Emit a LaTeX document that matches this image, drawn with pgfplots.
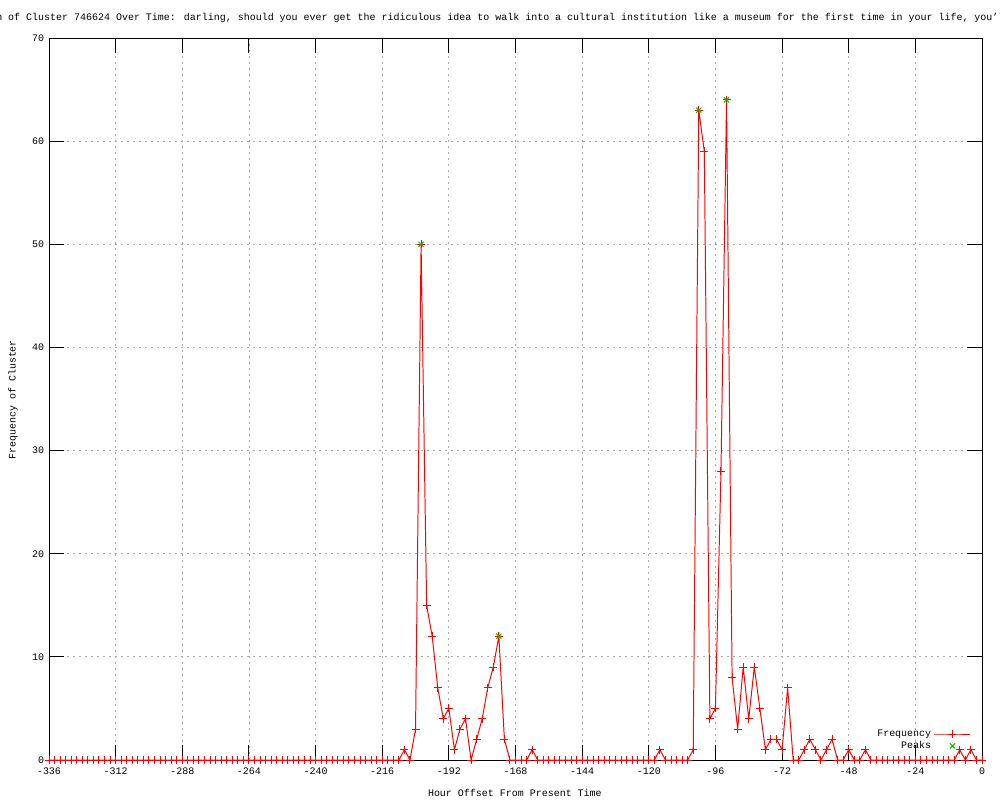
\documentclass[border=0pt]{standalone}
\usepackage{pgfplots}
\pgfplotsset{compat=1.18}
\usepackage{fontspec}
\setmainfont{Liberation Mono}
\setmonofont{Liberation Mono}
\definecolor{gpred}{RGB}{255,0,0}
\definecolor{gpgreen}{RGB}{0,192,0}
\definecolor{gpgrid}{RGB}{170,170,170}
\newcommand{\gpfont}{\fontsize{7.1}{8}\selectfont}
\pgfplotstableread{
x y
-336 0
-334 0
-332 0
-330 0
-328 0
-326 0
-324 0
-322 0
-320 0
-318 0
-316 0
-314 0
-312 0
-310 0
-308 0
-306 0
-304 0
-302 0
-300 0
-298 0
-296 0
-294 0
-292 0
-290 0
-288 0
-286 0
-284 0
-282 0
-280 0
-278 0
-276 0
-274 0
-272 0
-270 0
-268 0
-266 0
-264 0
-262 0
-260 0
-258 0
-256 0
-254 0
-252 0
-250 0
-248 0
-246 0
-244 0
-242 0
-240 0
-238 0
-236 0
-234 0
-232 0
-230 0
-228 0
-226 0
-224 0
-222 0
-220 0
-218 0
-216 0
-214 0
-212 0
-210 0
-208 1
-206 0
-204 3
-202 50
-200 15
-198 12
-196 7
-194 4
-192 5
-190 1
-188 3
-186 4
-184 0
-182 2
-180 4
-178 7
-176 9
-174 12
-172 2
-170 0
-168 0
-166 0
-164 0
-162 1
-160 0
-158 0
-156 0
-154 0
-152 0
-150 0
-148 0
-146 0
-144 0
-142 0
-140 0
-138 0
-136 0
-134 0
-132 0
-130 0
-128 0
-126 0
-124 0
-122 0
-120 0
-118 0
-116 1
-114 0
-112 0
-110 0
-108 0
-106 0
-104 1
-102 63
-100 59
-98 4
-96 5
-94 28
-92 64
-90 8
-88 3
-86 9
-84 4
-82 9
-80 5
-78 1
-76 2
-74 2
-72 1
-70 7
-68 0
-66 0
-64 1
-62 2
-60 1
-58 0
-56 1
-54 2
-52 0
-50 0
-48 1
-46 0
-44 0
-42 1
-40 0
-38 0
-36 0
-34 0
-32 0
-30 0
-28 0
-26 0
-24 0
-22 0
-20 0
-18 0
-16 0
-14 0
-12 0
-10 0
-8 1
-6 0
-4 1
-2 0
0 0
}\freqdata
\pgfplotstableread{
x y
-202 50
-174 12
-102 63
-92 64
}\peakdata
\begin{document}
\begin{tikzpicture}
\begin{axis}[
  at={(1.225cm,-19cm)}, anchor=south west,
  scale only axis,
  width=23.325cm, height=18.05cm,
  xmin=-336, xmax=0, ymin=0, ymax=70,
  xtick={-336,-312,...,0},
  ytick={0,10,...,70},
  tick align=inside,
  major tick length=0.38cm,
  tick style={black, line width=0.7pt},
  axis line style={black, line width=0.7pt},
  grid=major,
  major grid style={gpgrid, line width=0.6pt, dash pattern=on 0.06cm off 0.09cm},
  tick label style={font=\gpfont},
  /pgf/number format/assume math mode=true,
  /pgf/number format/set thousands separator={},
  xticklabel style={yshift=-0.08cm},
  legend style={at={(rel axis cs:0.993,0.005)}, anchor=south east, draw=none, fill=none,
     font=\gpfont, row sep=-2pt, cells={anchor=east}},
  legend plot pos=right,
  legend image code/.code={\draw[mark repeat=2,mark phase=2,#1] plot coordinates {(0cm,0cm) (0.45cm,0cm) (0.9cm,0cm)};},
  clip=false,
]
\addplot[color=gpred, line width=0.7pt, mark=+, mark size=0.1cm, mark options={solid, draw=gpred, color=gpred, line width=0.7pt}] table[x=x,y=y] {\freqdata};
\addlegendentry{Frequency}
\addplot[color=gpgreen, only marks, mark=x, mark size=0.09cm, mark options={draw=gpgreen, line width=0.7pt}] table[x=x,y=y] {\peakdata};
\addlegendentry{Peaks}
\end{axis}
\begin{scope}[x=0.025cm, y=-0.025cm]
\node[anchor=base west, font=\gpfont, inner sep=0pt] at (-10,21) {on of Cluster 746624 Over Time: darling, should you ever get the ridiculous idea to walk into a cultural institution like a museum for the first time in your life, you'll};
\node[font=\gpfont, inner sep=0pt] at (515,793) {Hour Offset From Present Time};
\node[font=\gpfont, inner sep=0pt, rotate=90] at (13,400) {Frequency of Cluster};
\end{scope}
\pgfresetboundingbox
\path[use as bounding box] (0,0) rectangle (25cm,-20cm);
\end{tikzpicture}
\end{document}
